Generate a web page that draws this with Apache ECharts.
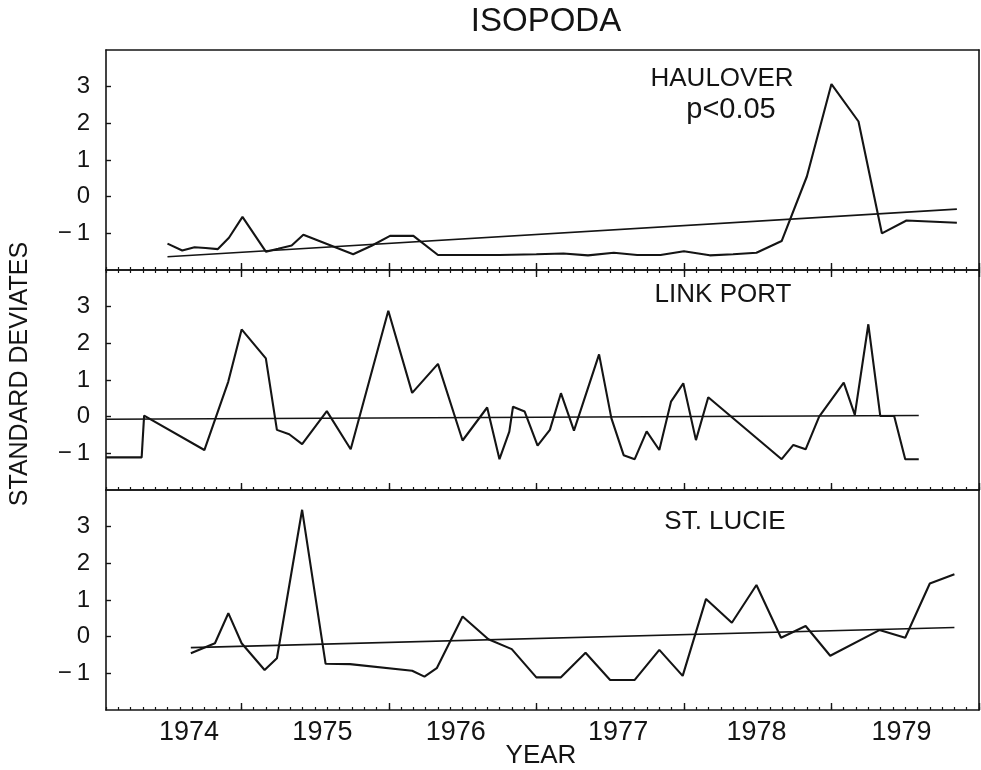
<!DOCTYPE html>
<html>
<head>
<meta charset="utf-8">
<script src="https://cdn.jsdelivr.net/npm/echarts@6/dist/echarts.min.js"></script>
<style>
html,body{margin:0;padding:0;background:#fff;}
#chart{width:981px;height:770px;}
</style>
</head>
<body>
<div id="chart"></div>
<script>
// x values are months counted from January 1974 (0 = Jan 1974)
const yearLabels = ['1974', '1975', '1976', '1977', '1978', '1979'];
const yearLabelMonths = [7.75, 18.6, 29.45, 42.65, 53.9, 65.7];
const yearTickMonths = [12, 24, 36, 48, 60, 72];
const yTickValues = [-1, 0, 1, 2, 3];

const panelNames = ['HAULOVER', 'LINK PORT', 'ST. LUCIE'];

const haulX = [6, 7.2, 8.2, 9.1, 10.1, 11, 12.1, 14, 15, 16.1, 17.05, 21.1, 22.6, 24.1, 26, 28, 30, 33, 36, 38.2, 40.2, 42.3, 44.2, 46.1, 48, 50.1, 52, 53.9, 55.95, 58, 60, 62.2, 64.1, 66.1, 70.2];
const haulY = [-1.28, -1.47, -1.38, -1.40, -1.43, -1.12, -0.55, -1.50, -1.42, -1.33, -1.04, -1.57, -1.34, -1.07, -1.07, -1.59, -1.59, -1.59, -1.57, -1.55, -1.60, -1.53, -1.59, -1.59, -1.49, -1.60, -1.57, -1.53, -1.21, 0.55, 3.07, 2.05, -1.00, -0.65, -0.71];
const haulTrendX = [6, 70.2];
const haulTrendY = [-1.64, -0.34];

const linkX = [1, 3.9, 4.1, 9.0, 10.94, 12.03, 14.0, 14.9, 15.9, 16.95, 18.96, 20.9, 23.96, 25.9, 28.0, 30.0, 32.0, 33.0, 33.8, 34.1, 35.05, 36.1, 37.1, 38.0, 39.06, 41.1, 42.1, 43.1, 44.0, 44.97, 46.0, 46.95, 47.95, 48.98, 49.98, 55.95, 56.9, 57.9, 59.0, 61.0, 61.9, 63.0, 63.97, 65.1, 66.0, 67.1];
const linkY = [-1.11, -1.11, 0.03, -0.91, 0.95, 2.38, 1.59, -0.36, -0.48, -0.75, 0.15, -0.89, 2.89, 0.65, 1.44, -0.65, 0.25, -1.16, -0.41, 0.27, 0.14, -0.79, -0.36, 0.64, -0.38, 1.70, -0.04, -1.05, -1.16, -0.40, -0.91, 0.41, 0.91, -0.64, 0.53, -1.16, -0.77, -0.89, 0.0, 0.93, 0.05, 2.52, 0.02, 0.02, -1.16, -1.16];
const linkTrendX = [1, 67.1];
const linkTrendY = [-0.07, 0.03];

const lucieX = [7.9, 9.86, 10.95, 12.03, 13.9, 14.9, 16.95, 18.86, 20.84, 25.9, 26.9, 27.9, 30.0, 32.1, 34.0, 36.0, 38.0, 40.0, 42.0, 44.0, 46.0, 47.9, 49.8, 51.9, 53.9, 55.9, 57.9, 59.9, 63.9, 66.0, 68.0, 70.0];
const lucieY = [-0.45, -0.18, 0.64, -0.18, -0.91, -0.59, 3.46, -0.74, -0.75, -0.93, -1.09, -0.86, 0.55, -0.07, -0.34, -1.11, -1.11, -0.44, -1.18, -1.18, -0.36, -1.07, 1.03, 0.38, 1.41, -0.03, 0.29, -0.52, 0.18, -0.03, 1.45, 1.70];
const lucieTrendX = [7.9, 70];
const lucieTrendY = [-0.30, 0.25];

const pairs = (xs, ys) => xs.map((x, i) => [x, ys[i]]);
const seriesSets = [
  [pairs(haulX, haulY), pairs(haulTrendX, haulTrendY)],
  [pairs(linkX, linkY), pairs(linkTrendX, linkTrendY)],
  [pairs(lucieX, lucieY), pairs(lucieTrendX, lucieTrendY)]
];

const INK = '#141414';
const FONT = '"Liberation Sans", Arial, sans-serif';
const X_MIN = 1, X_MAX = 72;
const grids = [
  { left: 106, right: 2, top: 50, height: 220 },
  { left: 106, right: 2, top: 270, height: 220 },
  { left: 106, right: 2, top: 490, height: 220 }
];

const xAxes = [];
const yAxes = [];
const series = [];

grids.forEach((g, gi) => {
  // bottom minor (monthly) ticks + axis line
  xAxes.push({
    type: 'value', gridIndex: gi, position: 'bottom', min: X_MIN, max: X_MAX, interval: 1,
    axisLine: { show: true, onZero: false, lineStyle: { color: INK, width: 1.6 } },
    axisTick: { show: true, inside: true, length: 3, lineStyle: { color: INK, width: 1.2 } },
    axisLabel: { show: false }, splitLine: { show: false }
  });
  // bottom major (yearly) ticks, labels on last panel
  const majorIdx = xAxes.length;
  xAxes.push({
    type: 'value', gridIndex: gi, position: 'bottom', min: X_MIN, max: X_MAX,
    axisLine: { show: false, onZero: false },
    axisTick: { show: true, inside: true, length: 7, customValues: yearTickMonths, lineStyle: { color: INK, width: 1.4 } },
    axisLabel: gi === 2 ? {
      show: true, customValues: yearLabelMonths, margin: 9,
      color: INK, fontSize: 27, fontFamily: FONT,
      formatter: (v) => { const k = yearLabelMonths.indexOf(v); return k >= 0 ? yearLabels[k] : ''; }
    } : { show: false },
    splitLine: { show: false }
  });
  // top border (with ticks on middle panel)
  xAxes.push({
    type: 'value', gridIndex: gi, position: 'top', min: X_MIN, max: X_MAX, interval: 1,
    axisLine: { show: true, onZero: false, lineStyle: { color: INK, width: 1.6 } },
    axisTick: { show: gi === 1, inside: true, length: 3, lineStyle: { color: INK, width: 1.2 } },
    axisLabel: { show: false }, splitLine: { show: false }
  });
  if (gi === 1) {
    xAxes.push({
      type: 'value', gridIndex: gi, position: 'top', min: X_MIN, max: X_MAX,
      axisLine: { show: false, onZero: false },
      axisTick: { show: true, inside: true, length: 7, customValues: yearTickMonths, lineStyle: { color: INK, width: 1.4 } },
      axisLabel: { show: false }, splitLine: { show: false }
    });
  }
  // left axis
  const yIdx = yAxes.length;
  yAxes.push({
    type: 'value', gridIndex: gi, position: 'left', min: -2, max: 4, interval: 1,
    axisLine: { show: true, onZero: false, lineStyle: { color: INK, width: 1.6 } },
    axisTick: { show: true, inside: true, length: 5, customValues: yTickValues, lineStyle: { color: INK, width: 1.4 } },
    axisLabel: {
      show: true, customValues: yTickValues, margin: 16, color: INK, fontSize: 24, fontFamily: FONT,
      formatter: (v) => v < 0 ? '\u2212\u2009' + Math.abs(v) : String(v)
    },
    splitLine: { show: false }
  });
  // right border
  yAxes.push({
    type: 'value', gridIndex: gi, position: 'right', min: -2, max: 4,
    axisLine: { show: true, onZero: false, lineStyle: { color: INK, width: 1.6 } },
    axisTick: { show: false }, axisLabel: { show: false }, splitLine: { show: false }
  });
  const [dataLine, trendLine] = seriesSets[gi];
  series.push({
    type: 'line', name: panelNames[gi], xAxisIndex: majorIdx, yAxisIndex: yIdx,
    data: dataLine, showSymbol: false, symbol: 'none',
    lineStyle: { color: INK, width: 2.1 }, z: 3
  });
  series.push({
    type: 'line', name: panelNames[gi] + ' trend', xAxisIndex: majorIdx, yAxisIndex: yIdx,
    data: trendLine, showSymbol: false, symbol: 'none',
    lineStyle: { color: INK, width: 1.6 }, z: 2
  });
});

const txt = (text, x, y, size, extra) => Object.assign({
  type: 'text', x: x, y: y, silent: true,
  style: { text: text, fill: INK, font: size + 'px ' + FONT, textAlign: 'center', textVerticalAlign: 'middle' }
}, extra || {});

const chart = echarts.init(document.getElementById('chart'), null, { renderer: 'canvas' });
chart.setOption({
  animation: false,
  backgroundColor: '#ffffff',
  grid: grids,
  xAxis: xAxes,
  yAxis: yAxes,
  series: series,
  graphic: [
    txt('ISOPODA', 546, 22, 33),
    txt(panelNames[0], 722, 79, 26),
    txt('p<0.05', 731, 110, 29),
    txt(panelNames[1], 723, 295, 26),
    txt(panelNames[2], 725, 522, 26),
    txt('YEAR', 541, 756, 26),
    txt('STANDARD DEVIATES', 20, 374, 25, { rotation: Math.PI / 2 })
  ]
});
</script>
</body>
</html>
